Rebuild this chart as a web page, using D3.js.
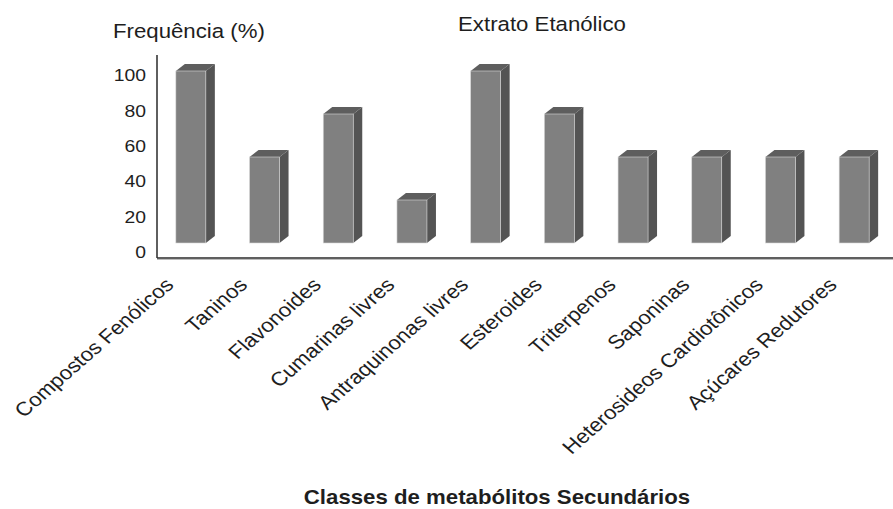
<!DOCTYPE html>
<html><head><meta charset="utf-8">
<script src="https://cdn.jsdelivr.net/npm/d3@7"></script>
<style>body{margin:0;background:#fff}svg{display:block}text{font-family:Arial,"Liberation Sans",sans-serif;fill:#1e1e1e}</style>
</head><body><svg id="c" width="893" height="509"></svg>
<script>
const categories = ["Compostos Fenólicos","Taninos","Flavonoides","Cumarinas livres","Antraquinonas livres","Esteroides","Triterpenos","Saponinas","Heterosideos Cardiotônicos","Açúcares Redutores"];
const values = [100,50,75,25,100,75,50,50,50,50];
const yTicks = [0,20,40,60,80,100];
const title = "Extrato Etanólico";
const yTitle = "Frequência (%)";
const xTitle = "Classes de metabólitos Secundários";

const svg = d3.select("#c");
const SX = 1.14;
const FS = 19.5;
const x = d3.scaleBand().domain(categories).range([154, 891]).padding(0);
const barW = 30, dx = 9, dy = 7;
const y = d3.scaleLinear().domain([0,100]).range([243, 71]);
const yLab = d3.scaleLinear().domain([0,100]).range([252, 75]);
const bx = d => x(d) + (x.bandwidth() - barW) / 2;

const g = svg.append("g");
const bars = g.selectAll("g.bar").data(categories.map((c,i)=>({c, v: values[i]}))).join("g").attr("class","bar");
bars.append("path").attr("fill","#545454").attr("d", d => {
  const x1 = bx(d.c) + barW, yt = y(d.v), yb = y(0);
  return `M${x1},${yt}L${x1+dx},${yt-dy}L${x1+dx},${yb-dy}L${x1},${yb}Z`;
});
bars.append("path").attr("fill","#5e5e5e").attr("d", d => {
  const x0 = bx(d.c), yt = y(d.v);
  return `M${x0},${yt}L${x0+dx},${yt-dy}L${x0+barW+dx},${yt-dy}L${x0+barW},${yt}Z`;
});
bars.append("rect").attr("fill","#808080").attr("stroke","#d8d8d8").attr("stroke-width",0.6)
  .attr("x", d => bx(d.c)).attr("y", d => y(d.v)).attr("width", barW).attr("height", d => y(0) - y(d.v));

svg.append("line").attr("x1",157).attr("x2",157).attr("y1",55).attr("y2",258).attr("stroke","#2a2a2a").attr("stroke-width",1.5);
svg.append("line").attr("x1",157).attr("x2",893).attr("y1",258).attr("y2",258).attr("stroke","#2a2a2a").attr("stroke-width",1.5);
svg.append("line").attr("x1",157).attr("x2",893).attr("y1",259.5).attr("y2",259.5).attr("stroke","#bbb").attr("stroke-width",1);

svg.selectAll("text.yt").data(yTicks).join("text").attr("class","yt")
  .attr("transform", d => `translate(146,${yLab(d)}) scale(${SX},1)`)
  .attr("text-anchor","end").attr("dy","0.36em").attr("font-size",17).text(d => d);

svg.selectAll("text.xl").data(categories).join("text").attr("class","xl")
  .attr("transform", d => `translate(${bx(d) + barW/2 - 16},${286}) scale(${SX},1) rotate(-45)`)
  .attr("text-anchor","end").attr("font-size",FS).text(d => d);

svg.append("text").attr("transform",`translate(542,31) scale(${SX},1)`).attr("text-anchor","middle").attr("font-size",FS).text(title);
svg.append("text").attr("transform",`translate(113,38) scale(${SX},1)`).attr("font-size",FS).text(yTitle);
svg.append("text").attr("transform",`translate(497,504) scale(${SX},1)`).attr("text-anchor","middle").attr("font-size",FS).attr("font-weight","bold").text(xTitle);
</script></body></html>
